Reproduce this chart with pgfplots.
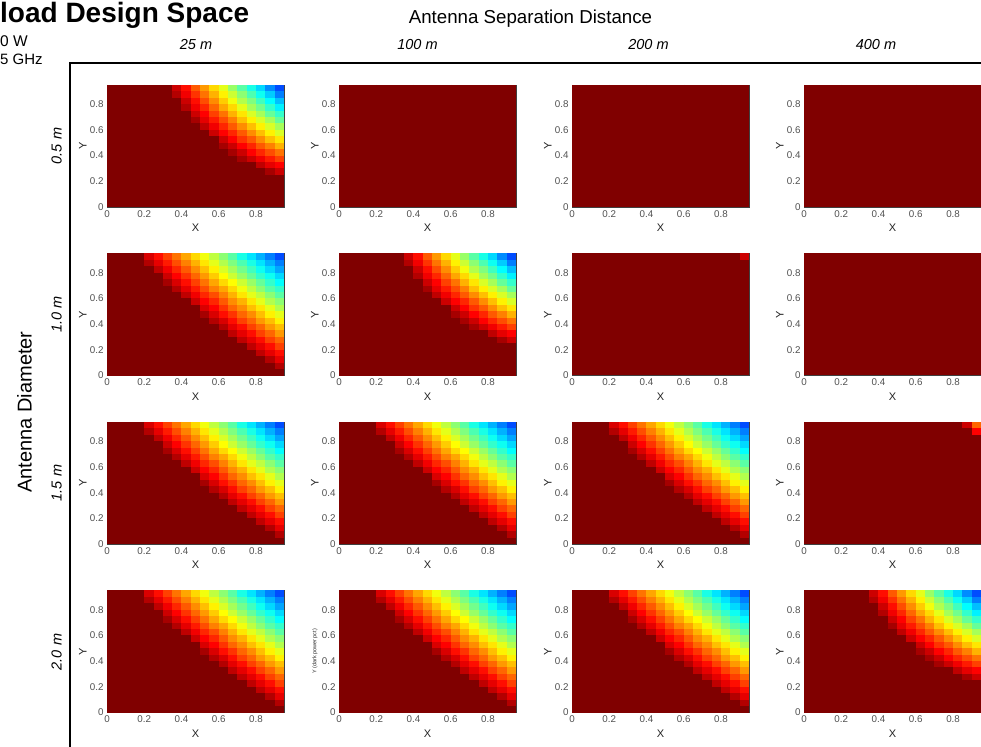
\documentclass[border=0pt]{standalone}
\usepackage{fontspec}
\setmainfont{Liberation Sans}
\usepackage{pgfplots}
\usepackage{pgfplotstable}
\pgfplotsset{compat=1.18}
\definecolor{tickgray}{RGB}{80,80,80}

\pgfdeclareplotmark{cellmark}{\pgfpathrectangle{\pgfqpoint{-4.72pt}{-3.27pt}}{\pgfqpoint{9.44pt}{6.54pt}}\pgfusepathqfill}
\pgfdeclareplotmark{panelmark}{\pgfpathrectangle{\pgfqpoint{-88.5pt}{-61pt}}{\pgfqpoint{177pt}{122pt}}\pgfusepathqfill}

% rows: top (Y=0.95) to bottom (Y=0); columns: X = 0 ... 0.95 ; values on jet scale 0..8 (8 = dark red)
\pgfplotstableread[header=false]{
8 8 8 8 7.3 6.9 6.5 6.1 5.7 5.3 4.9 4.5 4.1 3.7 3.2 2.8 2.4 2.0 1.6
8 8 8 8 7.6 7.2 6.8 6.4 6.0 5.6 5.2 4.8 4.4 4.0 3.6 3.2 2.8 2.4 2.0
8 8 8 8 8 7.5 7.1 6.7 6.3 5.9 5.5 5.1 4.7 4.3 3.9 3.5 3.1 2.7 2.3
8 8 8 8 8 8 7.4 7.0 6.6 6.2 5.8 5.4 5.0 4.6 4.2 3.8 3.4 3.1 2.7
8 8 8 8 8 8 7.7 7.3 6.9 6.5 6.1 5.7 5.3 5.0 4.6 4.2 3.8 3.4 3.0
8 8 8 8 8 8 8 7.6 7.2 6.8 6.4 6.0 5.7 5.3 4.9 4.5 4.1 3.7 3.4
8 8 8 8 8 8 8 8 7.5 7.1 6.7 6.4 6.0 5.6 5.2 4.8 4.5 4.1 3.7
8 8 8 8 8 8 8 8 8 7.4 7.0 6.7 6.3 5.9 5.6 5.2 4.8 4.4 4.1
8 8 8 8 8 8 8 8 8 8 7.3 7.0 6.6 6.2 5.9 5.5 5.2 4.8 4.4
8 8 8 8 8 8 8 8 8 8 7.7 7.3 6.9 6.6 6.2 5.9 5.5 5.1 4.8
8 8 8 8 8 8 8 8 8 8 8 7.6 7.3 6.9 6.5 6.2 5.8 5.5 5.1
8 8 8 8 8 8 8 8 8 8 8 8 7.6 7.2 6.9 6.5 6.2 5.8 5.5
8 8 8 8 8 8 8 8 8 8 8 8 8 7.5 7.2 6.9 6.5 6.2 5.8
8 8 8 8 8 8 8 8 8 8 8 8 8 8 7.5 7.2 6.9 6.5 6.2
8 8 8 8 8 8 8 8 8 8 8 8 8 8 8 7.5 7.2 6.9 6.5
8 8 8 8 8 8 8 8 8 8 8 8 8 8 8 8 7.5 7.2 6.9
8 8 8 8 8 8 8 8 8 8 8 8 8 8 8 8 8 7.6 7.2
8 8 8 8 8 8 8 8 8 8 8 8 8 8 8 8 8 8 7.6
8 8 8 8 8 8 8 8 8 8 8 8 8 8 8 8 8 8 8
}\TOne

\pgfplotstableread[header=false]{
8 8 8 8 8 8 8 7.4 6.9 6.3 5.8 5.3 4.8 4.2 3.7 3.2 2.7 2.1 1.6
8 8 8 8 8 8 8 7.6 7.1 6.6 6.1 5.6 5.1 4.6 4.1 3.6 3.1 2.6 2.0
8 8 8 8 8 8 8 8 7.4 6.9 6.4 5.9 5.4 4.9 4.4 4.0 3.5 3.0 2.5
8 8 8 8 8 8 8 8 7.6 7.1 6.7 6.2 5.7 5.3 4.8 4.3 3.9 3.4 2.9
8 8 8 8 8 8 8 8 8 7.4 7.0 6.5 6.1 5.6 5.2 4.7 4.3 3.8 3.4
8 8 8 8 8 8 8 8 8 7.7 7.2 6.8 6.4 6.0 5.5 5.1 4.7 4.3 3.8
8 8 8 8 8 8 8 8 8 8 7.5 7.1 6.7 6.3 5.9 5.5 5.1 4.7 4.3
8 8 8 8 8 8 8 8 8 8 8 7.4 7.0 6.7 6.3 5.9 5.5 5.1 4.7
8 8 8 8 8 8 8 8 8 8 8 8 7.4 7.0 6.6 6.3 5.9 5.5 5.2
8 8 8 8 8 8 8 8 8 8 8 8 7.7 7.4 7.0 6.7 6.3 6.0 5.6
8 8 8 8 8 8 8 8 8 8 8 8 8 7.7 7.4 7.0 6.7 6.4 6.1
8 8 8 8 8 8 8 8 8 8 8 8 8 8 7.7 7.4 7.1 6.8 6.5
8 8 8 8 8 8 8 8 8 8 8 8 8 8 8 8 7.5 7.2 7.0
8 8 8 8 8 8 8 8 8 8 8 8 8 8 8 8 8 7.7 7.4
8 8 8 8 8 8 8 8 8 8 8 8 8 8 8 8 8 8 8
8 8 8 8 8 8 8 8 8 8 8 8 8 8 8 8 8 8 8
8 8 8 8 8 8 8 8 8 8 8 8 8 8 8 8 8 8 8
8 8 8 8 8 8 8 8 8 8 8 8 8 8 8 8 8 8 8
8 8 8 8 8 8 8 8 8 8 8 8 8 8 8 8 8 8 8
}\TTwo

\pgfplotsset{
  panel/.style={
    width=177pt, height=122pt, scale only axis, anchor=south west,
    xmin=0, xmax=0.95, ymin=0, ymax=0.95,
    xtick={0,0.2,0.4,0.6,0.8}, ytick={0,0.2,0.4,0.6,0.8},
    xticklabels={0,0.2,0.4,0.6,0.8}, yticklabels={0,0.2,0.4,0.6,0.8},
    tick align=inside, major tick length=2pt,
    tick style={black!70, line width=0.4pt},
    axis line style={black!75, line width=0.8pt},
    ticklabel style={font=\fontsize{9.8}{10}\selectfont, text=tickgray},
    xlabel={X}, ylabel={Y},
    label style={font=\fontsize{11}{12}\selectfont, text=black!85},
    xlabel style={at={(axis description cs:0.5,-0.172)}, anchor=center},
    ylabel style={at={(axis description cs:-0.136,0.5)}, anchor=center},
    colormap/jet, point meta min=0, point meta max=8,
    axis on top,
  },
  cells/.style={scatter, only marks, mark=cellmark, point meta=explicit},
}

\newcommand{\heat}[1]{%
  \pgfplotsinvokeforeach{0,...,18}{%
    \addplot[cells] table[x expr={0.025+0.05*##1}, y expr={0.925-0.05*\coordindex}, meta index=##1] {#1};
  }}
\newcommand{\uniformpanel}{%
  \addplot[scatter, only marks, mark=panelmark, point meta=explicit] coordinates {(0.475,0.475) [8]};}

\begin{document}
\begin{tikzpicture}
\useasboundingbox (0pt,0pt) rectangle (981pt,746pt);
\clip (0pt,0pt) rectangle (981pt,746pt);
\fill[white] (0pt,0pt) rectangle (981pt,746pt);
\draw[line width=2.6pt, line join=miter] (1000pt,683pt) -- (70pt,683pt) -- (70pt,-20pt);

% row 0.5 m
\begin{axis}[panel, at={(107pt,539pt)}] \heat{\TTwo} \end{axis}
\begin{axis}[panel, at={(339pt,539pt)}] \uniformpanel \end{axis}
\begin{axis}[panel, at={(572pt,539pt)}] \uniformpanel \end{axis}
\begin{axis}[panel, at={(804pt,539pt)}] \uniformpanel \end{axis}
% row 1.0 m
\begin{axis}[panel, at={(107pt,370.5pt)}] \heat{\TOne} \end{axis}
\begin{axis}[panel, at={(339pt,370.5pt)}] \heat{\TTwo} \end{axis}
\begin{axis}[panel, at={(572pt,370.5pt)}] \uniformpanel
  \addplot[cells] coordinates {(0.925,0.925) [7.4]}; \end{axis}
\begin{axis}[panel, at={(804pt,370.5pt)}] \uniformpanel \end{axis}
% row 1.5 m
\begin{axis}[panel, at={(107pt,202pt)}] \heat{\TOne} \end{axis}
\begin{axis}[panel, at={(339pt,202pt)}] \heat{\TOne} \end{axis}
\begin{axis}[panel, at={(572pt,202pt)}] \heat{\TOne} \end{axis}
\begin{axis}[panel, at={(804pt,202pt)}] \uniformpanel
  \addplot[cells] coordinates {(0.875,0.925) [7.4] (0.925,0.925) [6.2] (0.925,0.875) [7.0]}; \end{axis}
% row 2.0 m
\begin{axis}[panel, at={(107pt,33.5pt)}] \heat{\TOne} \end{axis}
\begin{axis}[panel, at={(339pt,33.5pt)}, ylabel={Y (dark power pct)}, ylabel style={font=\fontsize{5.5}{6}\selectfont}] \heat{\TOne} \end{axis}
\begin{axis}[panel, at={(572pt,33.5pt)}] \heat{\TOne} \end{axis}
\begin{axis}[panel, at={(804pt,33.5pt)}] \heat{\TTwo} \end{axis}

% texts
\node[anchor=base west, inner sep=0pt, font=\fontsize{28}{30}\selectfont\bfseries] at (0pt,723.5pt) {load Design Space};
\node[anchor=base west, inner sep=0pt, font=\fontsize{15.5}{17}\selectfont] at (0pt,699.5pt) {0 W};
\node[anchor=base west, inner sep=0pt, font=\fontsize{15}{17}\selectfont] at (0pt,681pt) {5 GHz};
\node[anchor=base, inner sep=0pt, font=\fontsize{18.7}{20}\selectfont] at (530.5pt,722.7pt) {Antenna Separation Distance};
\node[anchor=base, inner sep=0pt, font=\fontsize{14.5}{16}\selectfont\itshape] at (196pt,696pt) {25 m};
\node[anchor=base, inner sep=0pt, font=\fontsize{14.5}{16}\selectfont\itshape] at (417.5pt,696pt) {100 m};
\node[anchor=base, inner sep=0pt, font=\fontsize{14.5}{16}\selectfont\itshape] at (648.5pt,696pt) {200 m};
\node[anchor=base, inner sep=0pt, font=\fontsize{14.5}{16}\selectfont\itshape] at (876pt,696pt) {400 m};
\node[rotate=90, anchor=south, inner sep=0pt, font=\fontsize{20}{22}\selectfont] at (32pt,334pt) {Antenna Diameter};
\node[rotate=90, anchor=south, inner sep=0pt, font=\fontsize{14.5}{16}\selectfont\itshape] at (62pt,600pt) {0.5 m};
\node[rotate=90, anchor=south, inner sep=0pt, font=\fontsize{14.5}{16}\selectfont\itshape] at (62pt,431.5pt) {1.0 m};
\node[rotate=90, anchor=south, inner sep=0pt, font=\fontsize{14.5}{16}\selectfont\itshape] at (62pt,263pt) {1.5 m};
\node[rotate=90, anchor=south, inner sep=0pt, font=\fontsize{14.5}{16}\selectfont\itshape] at (62pt,94pt) {2.0 m};
\end{tikzpicture}
\end{document}
